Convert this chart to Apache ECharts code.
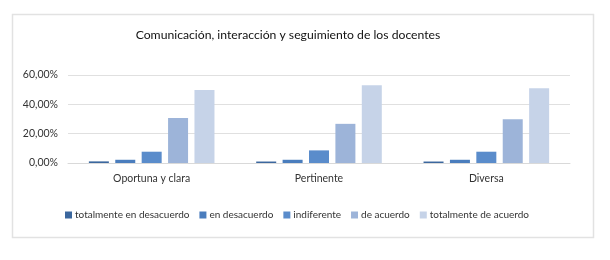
<!DOCTYPE html>
<html>
<head>
<meta charset="utf-8">
<script src="https://cdn.jsdelivr.net/npm/echarts@6/dist/echarts.min.js"></script>
<style>
  html, body { margin: 0; padding: 0; background: #fff; }
  #chart { width: 610px; height: 260px; }
</style>
</head>
<body>
<div id="chart"></div>
<script>
const categories = ["Oportuna y clara", "Pertinente", "Diversa"];
const seriesNames = [
  "totalmente en desacuerdo",
  "en desacuerdo",
  "indiferente",
  "de acuerdo",
  "totalmente de acuerdo"
];
const totDesacuerdo = [1.1, 1.0, 1.0];
const enDesacuerdo = [2.2, 2.2, 2.2];
const indiferente = [7.7, 8.6, 7.7];
const deAcuerdo = [30.6, 26.7, 29.9];
const totAcuerdo = [49.8, 53.0, 51.0];
const yTicks = [0, 20, 40, 60];

const colors = ["#3b679e", "#4a7dbd", "#5a8ccb", "#9db4d9", "#c6d3e8"];
const values = [totDesacuerdo, enDesacuerdo, indiferente, deAcuerdo, totAcuerdo];
const font = "Lato";

const chart = echarts.init(document.getElementById("chart"));
chart.setOption({
  animation: false,
  color: colors,
  title: {
    text: "Comunicación, interacción y seguimiento de los docentes",
    left: 283,
    textAlign: "center",
    top: 24,
    textStyle: { fontFamily: font, fontSize: 12.2, fontWeight: "normal", color: "#111" }
  },
  graphic: [{
    type: "rect",
    shape: { x: 12.5, y: 14.5, width: 581, height: 223 },
    style: { fill: "none", stroke: "#e2e2e2", lineWidth: 1.5 },
    silent: true
  }],
  legend: {
    data: seriesNames,
    left: 60,
    top: 205,
    itemWidth: 7,
    itemHeight: 7,
    itemGap: 10,
    icon: "rect",
    textStyle: { fontFamily: font, fontSize: 10, color: "#333", padding: [0, 0, 0, -2] }
  },
  grid: { left: 68, right: 40, top: 75, height: 88 },
  xAxis: {
    type: "category",
    data: categories,
    axisTick: { show: false },
    axisLine: { lineStyle: { color: "#d9d9d9" } },
    axisLabel: { fontFamily: font, fontSize: 10.5, color: "#333", margin: 10 }
  },
  yAxis: {
    type: "value",
    min: yTicks[0],
    max: yTicks[yTicks.length - 1],
    interval: 20,
    axisLabel: {
      fontFamily: font, fontSize: 10.5, color: "#333", margin: 10,
      formatter: v => v.toFixed(2).replace(".", ",") + "%"
    },
    splitLine: { lineStyle: { color: "#e0e0e0" } }
  },
  series: seriesNames.map((name, i) => ({
    name: name,
    type: "bar",
    data: values[i],
    barWidth: 20,
    barGap: "32%"
  }))
});
</script>
</body>
</html>
